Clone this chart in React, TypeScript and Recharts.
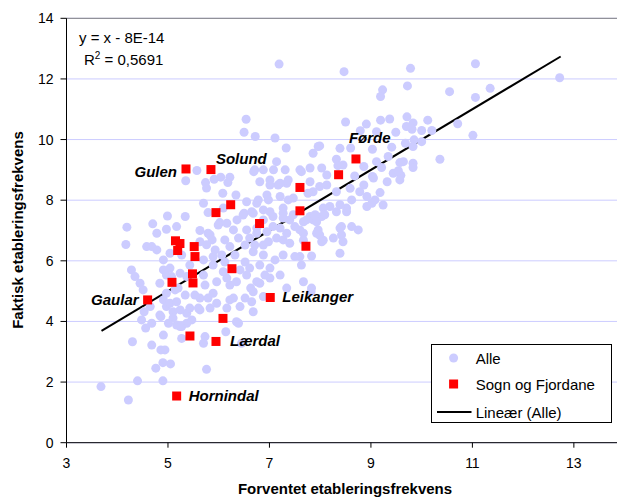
import React from 'react';
import {
  ScatterChart, Scatter, XAxis, YAxis, CartesianGrid, ReferenceLine, ReferenceDot, Legend,
} from 'recharts';

const FONT = '"Liberation Sans", Arial, sans-serif';

// Alle kommuner: [forventet, faktisk]
const ALLE_POINTS: [number, number][] = [
  [7.19, 12.49], [8.47, 12.24], [9.78, 12.35], [11.06, 12.5], [12.72, 12.04],
  [9.23, 11.64], [9.19, 11.42], [9.72, 11.77], [10.55, 11.58], [11.06, 11.39], [11.35, 11.69],
  [8.5, 10.58], [8.91, 10.51], [9.19, 10.64], [9.37, 10.68], [9.71, 10.75], [9.83, 10.55], [9.81, 10.34],
  [10.0, 10.3], [10.12, 10.64], [10.2, 10.3], [10.71, 10.52], [11.01, 10.14], [8.79, 10.29], [9.11, 10.26],
  [9.49, 10.24], [9.7, 10.43],
  [9.03, 9.68], [8.6, 9.72], [7.99, 9.79], [7.86, 9.55], [8.32, 9.35], [8.35, 9.14], [7.8, 9.06], [7.63, 8.94],
  [9.41, 9.75], [9.68, 9.88], [9.85, 9.99], [10.0, 9.93], [9.83, 9.77], [9.57, 9.24], [9.83, 9.22], [9.83, 9.08],
  [10.36, 9.35], [9.34, 9.44], [9.21, 9.08], [8.86, 9.11],
  [8.68, 8.8], [9.03, 8.78], [9.44, 8.89], [9.59, 8.82], [9.32, 8.61], [9.57, 8.67], [8.86, 8.5], [8.13, 8.83],
  [8.13, 8.5], [7.8, 8.61], [7.99, 8.45], [8.78, 8.28], [9.18, 8.25], [9.08, 8.01], [8.92, 7.79], [9.24, 7.84],
  [8.62, 8.01], [8.52, 7.74], [8.32, 7.62], [8.06, 7.74], [8.03, 7.46], [7.86, 7.35], [7.67, 7.29], [8.42, 7.13],
  [8.62, 7.13], [8.75, 7.02], [8.26, 6.75], [8.45, 6.63], [8.06, 6.68], [7.93, 6.91], [7.67, 6.91], [8.39, 6.25],
  [7.83, 6.16], [7.63, 5.86], [7.67, 5.31], [7.82, 4.98],
  [7.96, 9.77], [7.33, 9.72], [7.14, 9.27], [7.11, 10.05], [6.72, 10.1], [6.54, 10.67], [6.5, 10.24], [8.39, 9.71],
  [8.45, 9.16], [9.11, 9.27], [9.64, 9.27], [9.54, 8.97],
  [6.71, 9.0], [6.88, 9.0], [7.08, 9.0], [7.31, 9.0], [7.6, 9.0], [8.03, 9.06],
  [5.57, 8.98], [5.35, 8.64], [5.74, 8.58], [5.91, 8.69], [6.04, 8.76], [6.22, 8.76], [6.18, 8.58], [6.69, 8.94],
  [7.01, 8.67], [7.17, 8.5], [7.34, 8.56], [5.76, 8.4], [6.08, 8.23], [6.34, 8.17], [6.55, 7.95], [6.78, 8.01],
  [6.98, 8.01], [7.21, 8.12], [7.37, 8.01], [5.7, 7.9], [5.79, 7.59], [6.09, 7.74], [6.5, 7.57], [6.68, 7.57],
  [6.88, 7.68], [7.07, 7.46], [7.27, 7.57], [7.4, 7.35], [7.8, 7.46],
  [4.19, 7.11], [4.99, 7.48], [4.7, 7.22], [5.17, 7.13], [4.97, 7.04], [4.78, 6.91], [5.34, 7.46], [5.63, 7.0],
  [5.79, 6.91], [6.02, 7.26], [6.29, 7.02], [6.55, 7.02], [6.75, 6.91], [7.07, 7.13], [7.34, 6.91], [7.6, 7.02],
  [7.96, 7.02],
  [4.17, 6.54], [4.58, 6.47], [4.78, 6.36], [4.28, 5.7], [4.35, 5.48], [4.45, 5.26], [4.51, 5.04], [4.84, 5.26],
  [4.91, 5.7], [5.07, 5.48], [5.24, 5.59], [5.37, 5.48],
  [4.65, 4.49], [4.53, 4.32], [4.48, 4.05], [4.56, 3.78], [4.68, 3.94], [4.84, 4.21], [4.97, 4.49], [5.1, 4.32],
  [5.17, 3.88], [5.27, 3.83], [5.1, 4.11], [5.37, 4.27], [5.37, 3.94], [5.47, 4.05], [5.63, 4.38], [5.83, 4.44],
  [5.63, 4.77], [5.89, 4.93], [5.96, 4.6], [4.91, 4.71], [4.97, 4.93],
  [4.3, 3.33], [4.68, 3.22], [4.91, 3.55], [5.27, 3.44], [5.7, 3.28], [5.73, 3.5], [6.14, 3.66], [6.39, 3.94],
  [6.68, 4.32], [6.42, 4.49], [6.29, 4.77], [6.52, 4.77], [6.63, 5.1], [6.81, 5.26], [6.45, 3.28],
  [4.86, 3.06], [4.94, 3.06], [4.9, 2.64], [5.05, 2.6], [4.76, 2.46], [5.76, 2.42], [4.4, 2.04], [4.9, 2.04],
  [3.68, 1.85], [4.22, 1.41],
  [5.04, 6.25], [4.86, 4.16], [5.04, 4.6], [5.01, 3.94], [5.17, 4.65], [5.24, 4.38], [5.43, 4.44], [5.6, 4.44],
  [5.79, 4.77], [6.16, 4.44], [6.22, 4.71], [6.35, 3.99], [5.24, 3.83],
  [4.68, 6.47], [4.91, 6.03], [5.27, 6.19], [5.83, 6.85], [5.99, 7.18], [6.16, 7.24], [5.63, 6.63], [5.76, 6.53],
  [5.7, 6.03], [5.89, 5.86], [6.06, 6.19], [6.22, 6.47], [6.39, 6.75], [6.48, 7.51],
  [4.97, 5.53], [5.04, 5.76], [5.2, 5.1], [5.7, 5.53], [5.73, 5.2], [5.96, 5.31], [6.16, 5.43], [6.35, 5.31],
  [6.55, 5.53], [6.09, 5.64], [5.89, 6.14],
  [6.81, 8.61], [7.01, 8.5], [7.21, 8.56], [7.37, 8.67], [7.86, 8.28], [8.32, 8.28], [8.59, 8.39], [9.05, 8.73],
  [8.92, 8.12], [8.39, 7.85], [8.19, 7.79], [9.02, 7.9], [8.52, 7.62], [8.09, 7.52], [7.9, 7.52], [7.73, 7.35],
  [7.93, 7.29], [7.47, 7.52], [7.27, 7.41], [7.21, 7.08], [7.5, 7.13], [7.67, 6.68], [8.39, 7.08], [8.42, 6.85],
  [7.99, 6.85], [8.03, 6.63], [7.6, 6.14], [7.5, 6.14], [7.27, 6.19], [7.11, 6.03], [7.01, 5.76], [7.21, 5.53],
  [7.34, 5.1], [6.75, 5.31], [6.88, 6.52], [6.98, 6.63], [6.95, 8.17], [6.75, 7.9], [7.47, 8.07], [7.76, 8.23],
  [6.65, 7.62], [7.01, 7.62], [7.27, 7.74], [6.75, 7.08], [6.95, 6.96], [6.68, 6.3], [6.88, 6.19], [7.14, 6.75],
  [7.4, 6.58], [7.27, 6.69], [7.83, 5.1],
  [6.65, 4.65], [6.88, 4.82], [6.68, 4.98], [7.01, 5.43],
  [5.93, 6.36], [6.12, 5.96], [6.32, 6.19], [6.52, 5.96], [6.42, 5.7], [6.61, 5.76], [6.71, 6.52], [6.52, 6.52],
  [6.22, 5.2], [5.43, 5.86], [5.53, 4.87], [5.34, 4.87], [5.14, 5.04], [6.12, 6.69], [5.87, 6.69], [6.81, 5.86],
  [6.91, 5.53], [6.61, 6.75], [6.88, 7.35], [6.36, 7.35],
];

// Sogn og Fjordane
const SOGN_NAMES = [
  'Gulen', 'Solund', 'Førde', '', '', '', '', '', '', '', '', '', '', '', '', '', '', '', '', 'Gaular',
  'Leikanger', '', '', 'Lærdal', 'Hornindal',
];
const SOGN_X = [
  5.355, 5.847, 8.705, 8.363, 7.601, 7.601, 6.236, 5.946, 6.805, 5.148, 5.236, 5.517, 7.719, 5.191, 5.532,
  6.261, 5.483, 5.079, 5.493, 4.599, 7.016, 6.084, 5.433, 5.946, 5.171,
];
const SOGN_Y = [
  9.03, 9.01, 9.36, 8.84, 8.42, 7.65, 7.85, 7.59, 7.23, 6.66, 6.57, 6.47, 6.48, 6.34, 6.14,
  5.74, 5.57, 5.29, 5.27, 4.71, 4.79, 4.1, 3.52, 3.34, 1.54,
];

const TREND_FROM = 3.69;
const TREND_TO = 12.74;
const EQUATION = 'y = x - 8E-14';
const R2_VALUE = '0,5691';

const X_TICKS = [3, 5, 7, 9, 11, 13];
const Y_TICKS = [0, 2, 4, 6, 8, 10, 12, 14];
const SERIES_NAMES = ['Alle', 'Sogn og Fjordane', 'Lineær (Alle)'];

const LABEL_OFFSETS: Record<string, { dx: number; dy: number; anchor: 'start' | 'end' }> = {
  Gulen: { dx: -9, dy: 8, anchor: 'end' },
  Solund: { dx: 5, dy: -6, anchor: 'start' },
  'Førde': { dx: -7, dy: -16, anchor: 'start' },
  Gaular: { dx: -9, dy: 5, anchor: 'end' },
  Leikanger: { dx: 12, dy: 5, anchor: 'start' },
  'Lærdal': { dx: 14, dy: 5, anchor: 'start' },
  Hornindal: { dx: 12, dy: 5, anchor: 'start' },
};

const alleData = ALLE_POINTS.map(([x, y]) => ({ x, y }));
const sognData = SOGN_X.map((x, i) => ({ x, y: SOGN_Y[i], name: SOGN_NAMES[i] }));

const Circle = (props: any) => (
  <circle cx={props.cx} cy={props.cy} r={4.5} fill="#ccccff" />
);

const RedSquare = (props: any) => (
  <rect x={props.cx - 4.5} y={props.cy - 4.5} width={9} height={9} fill="#ff0000" />
);

const PointLabel = (props: any) => {
  const { viewBox, text, dx, dy, anchor } = props;
  if (!viewBox) return null;
  return (
    <text
      x={viewBox.x + dx}
      y={viewBox.y + dy}
      textAnchor={anchor}
      fontFamily={FONT}
      fontSize={15}
      fontWeight="bold"
      fontStyle="italic"
      fill="#000"
    >
      {text}
    </text>
  );
};

const ROW_CENTERS = [13.6, 39.6, 67.6];

const LegendBox = () => (
  <div
    style={{
      position: 'relative', width: 181, height: 79, border: '1px solid #000', boxSizing: 'border-box',
      background: '#fff', fontFamily: FONT, fontSize: 15, color: '#000',
    }}
  >
    {SERIES_NAMES.map((name, i) => (
      <div
        key={name}
        style={{ position: 'absolute', left: 0, top: ROW_CENTERS[i] - 10, height: 20, display: 'flex', alignItems: 'center', whiteSpace: 'nowrap' }}
      >
        <svg width={44} height={20} style={{ display: 'block' }}>
          {i === 0 && <circle cx={21.6} cy={10} r={4.5} fill="#ccccff" />}
          {i === 1 && <rect x={17.1} y={5.5} width={9} height={9} fill="#ff0000" />}
          {i === 2 && <line x1={5} x2={39.5} y1={10} y2={10} stroke="#000" strokeWidth={2} />}
        </svg>
        <span>{name}</span>
      </div>
    ))}
  </div>
);

export default function App() {
  return (
    <div style={{ position: 'absolute', left: 0, top: 0, width: 617, height: 498, background: '#fff' }}>
      <ScatterChart width={617} height={498} margin={{ top: 18.3, right: 0, bottom: 0, left: 0 }}>
        <CartesianGrid vertical={false} stroke="#ccccff" />
        <XAxis
          type="number"
          dataKey="x"
          domain={[3, 13.85]}
          ticks={X_TICKS}
          allowDataOverflow
          height={55.3}
          tickSize={5}
          tickMargin={10}
          axisLine={{ stroke: '#000' }}
          tickLine={{ stroke: '#000' }}
          tick={{ fill: '#000', fontSize: 14, fontFamily: FONT }}
        />
        <YAxis
          type="number"
          dataKey="y"
          domain={[0, 14]}
          ticks={Y_TICKS}
          allowDataOverflow
          width={66.5}
          tickSize={6}
          tickMargin={7}
          axisLine={{ stroke: '#000' }}
          tickLine={{ stroke: '#000' }}
          tick={{ fill: '#000', fontSize: 14, fontFamily: FONT }}
        />
        <ReferenceLine y={14} stroke="#808080" />
        <Scatter name={SERIES_NAMES[0]} data={alleData} shape={Circle} isAnimationActive={false} />
        <Scatter name={SERIES_NAMES[1]} data={sognData} shape={RedSquare} isAnimationActive={false} />
        <ReferenceLine
          segment={[{ x: TREND_FROM, y: TREND_FROM }, { x: TREND_TO, y: TREND_TO }]}
          stroke="#000"
          strokeWidth={2}
        />
        {sognData.filter((d) => d.name).map((d) => {
          const o = LABEL_OFFSETS[d.name];
          return (
            <ReferenceDot
              key={d.name}
              x={d.x}
              y={d.y}
              r={0}
              fill="none"
              stroke="none"
              label={<PointLabel text={d.name} dx={o.dx} dy={o.dy} anchor={o.anchor} />}
            />
          );
        })}
        <Legend
          layout="horizontal"
          verticalAlign="middle"
          align="center"
          content={LegendBox}
          wrapperStyle={{ left: 430.7, top: 343.7, width: 181, height: 79 }}
        />
      </ScatterChart>
      <svg
        width={617}
        height={498}
        style={{ position: 'absolute', left: 0, top: 0, pointerEvents: 'none' }}
        fontFamily={FONT}
      >
        <text x={79} y={43} fontSize={15} fill="#000">{EQUATION}</text>
        <text x={84} y={65} fontSize={15} fill="#000">
          <tspan>R</tspan>
          <tspan dy={-6} fontSize={10}>2</tspan>
          <tspan dy={6}>{` = ${R2_VALUE}`}</tspan>
        </text>
        <text x={345} y={494} fontSize={15} fontWeight="bold" textAnchor="middle" fill="#000">
          Forventet etableringsfrekvens
        </text>
        <text
          transform="rotate(-90)"
          x={-230}
          y={23}
          fontSize={15}
          fontWeight="bold"
          textAnchor="middle"
          fill="#000"
        >
          Faktisk etableringsfrekvens
        </text>
      </svg>
    </div>
  );
}
